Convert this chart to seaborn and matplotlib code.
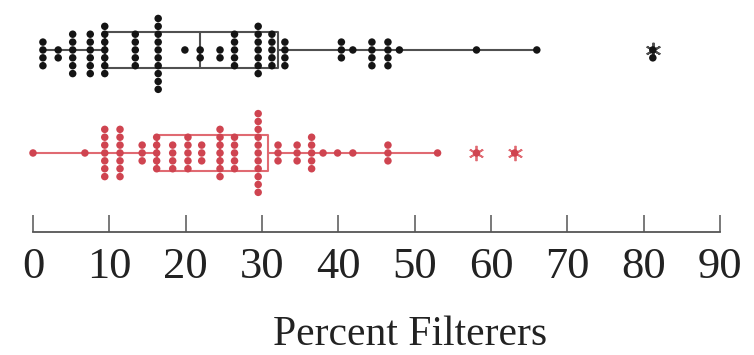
import numpy as np
import pandas as pd
import matplotlib
matplotlib.use("Agg")
import matplotlib.pyplot as plt
import seaborn as sns

# ---- data ----
groups = ["Group 1", "Group 2"]

g1_values = [1.3, 3.3, 5.2, 7.5, 9.4, 13.4, 16.4, 19.9, 21.9, 24.5, 26.4, 29.5,
             31.3, 33.0, 40.4, 41.9, 44.4, 46.5, 48.0, 58.1, 66.0, 81.2]
g1_counts = [4, 2, 6, 6, 7, 5, 10, 1, 2, 2, 5, 7,
             5, 4, 3, 1, 4, 4, 1, 1, 1, 2]

g2_values = [0.0, 6.8, 9.4, 11.4, 14.3, 16.2, 18.3, 20.3, 22.1, 24.5, 26.4, 29.5,
             32.1, 34.6, 36.5, 38.0, 39.9, 41.9, 46.5, 53.0, 58.1, 63.1]
g2_counts = [1, 1, 7, 7, 3, 5, 4, 5, 3, 7, 5, 11,
             3, 3, 5, 1, 1, 1, 3, 1, 1, 1]

x_ticks = [0, 10, 20, 30, 40, 50, 60, 70, 80, 90]
x_label = "Percent Filterers"

colors = ["#141414", "#cf4450"]
box_colors = ["#505050", "#e06a72"]

rows = []
for v, c in zip(g1_values, g1_counts):
    rows += [(groups[0], v)] * c
for v, c in zip(g2_values, g2_counts):
    rows += [(groups[1], v)] * c
df = pd.DataFrame(rows, columns=["group", "value"])

sns.set_theme(style="white")
plt.rcParams["font.family"] = ["Liberation Serif", "DejaVu Serif"]

fig = plt.figure(figsize=(7.54, 3.55), dpi=100)
ax = fig.add_axes([33 / 754, (355 - 232) / 355, (720 - 33) / 754, 232 / 355])

sns.boxplot(data=df, x="value", y="group", order=groups, hue="group",
            hue_order=groups, palette=box_colors, fill=False, width=0.35,
            whis=1.7, linewidth=1.5, showcaps=False, legend=False,
            flierprops=dict(marker=(6, 2, 0), markersize=11,
                            markeredgewidth=1.3), ax=ax)

sns.swarmplot(data=df, x="value", y="group", order=groups, hue="group",
              hue_order=groups, palette=colors, size=5.4, linewidth=0,
              legend=False, ax=ax)

for coll in ax.collections:
    coll.set_clip_on(False)
for ln in ax.lines:
    ln.set_clip_on(False)

ax.set_xlim(0, 90)
ax.set_ylim(1.767, -0.485)
ax.set_xticks(x_ticks)
ax.set_xticklabels([str(t) for t in x_ticks])
ax.set_yticks([])
ax.set_ylabel("")
ax.set_xlabel(x_label, fontsize=30, color="#222222")
ax.xaxis.set_label_coords((410 - 33) / (720 - 33), -0.36)

for s in ["top", "right", "left"]:
    ax.spines[s].set_visible(False)
ax.spines["bottom"].set_color("#555555")
ax.spines["bottom"].set_linewidth(1.3)
ax.spines["bottom"].set_bounds(0, 90)
ax.tick_params(axis="x", direction="in", length=12, width=1.1,
               colors="#555555", labelcolor="#222222", labelsize=32, pad=11,
               bottom=True)

fig.savefig("out.png", dpi=100)
